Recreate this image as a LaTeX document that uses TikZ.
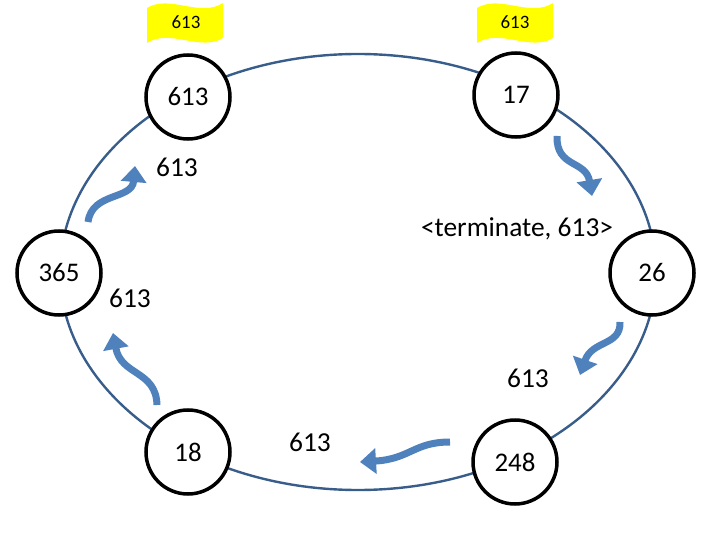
\documentclass[tikz,border=0pt]{standalone}
\usepackage{fontspec}
\setmainfont{Carlito}
\usetikzlibrary{arrows.meta,positioning}
\definecolor{ringblue}{RGB}{56,93,138}
\definecolor{flowblue}{RGB}{79,129,189}
\definecolor{flagyellow}{RGB}{255,255,0}

\begin{document}
\begin{tikzpicture}[x=1bp, y=-1bp,
    ring node/.style={circle, draw=black, line width=3.5bp, fill=white, minimum size=84bp, inner sep=0pt, font=\fontsize{27}{31}\selectfont},
    ring line/.style={draw=ringblue, line width=2.4bp},
    flow arrow/.style={draw=flowblue, line width=7bp, -{Triangle[length=16bp, width=25bp]}},
    msg label/.style={inner sep=0pt, font=\fontsize{27.5}{32}\selectfont},
    flag label/.style={inner sep=0pt, font=\fontsize{19}{22}\selectfont}]

    \useasboundingbox (0,0) rectangle (720,540);

    % the ring
    \draw [ring line] (358,272) ellipse [x radius=298bp, y radius=218bp];

    % processes on the ring
    \node [ring node] (n613) at (188,97) {613};
    \node [ring node] (n17) at (516,95) {17};
    \node [ring node] (n26) at (652,273) {26};
    \node [ring node] (n248) at (515,462) {248};
    \node [ring node] (n18) at (188,452) {18};
    \node [ring node] (n365) at (59,273) {365};

    % flags over the two leaders
    \fill [flagyellow] (147,8) .. controls (170,-6) and (200,18) .. (223,3)
        -- (223,38) .. controls (200,52) and (170,28) .. (147,43) -- cycle;
    \node [flag label] (flagA) at (186,22) {613};
    \fill [flagyellow] (477,8) .. controls (500,-6) and (530,18) .. (553,3)
        -- (553,38) .. controls (530,52) and (500,28) .. (477,43) -- cycle;
    \node [flag label] (flagB) at (515,22) {613};

    % messages
    \node [msg label] (mA) at (177,167) {613};
    \node [msg label] (mB) at (517,229) {<terminate, 613>};
    \node [msg label] (mC) at (130,298) {613};
    \node [msg label] (mD) at (528,378) {613};
    \node [msg label] (mE) at (310,442) {613};

    % direction of the messages
    \coordinate (a1) at (557,136);
    \coordinate (b1) at (592,196);
    \draw [flow arrow] (a1) .. controls (556,168) and (586,160) .. (b1);
    \coordinate (a2) at (620,322);
    \coordinate (b2) at (580,375);
    \draw [flow arrow] (a2) .. controls (621,346) and (592,340) .. (b2);
    \coordinate (a3) at (450,442);
    \coordinate (b3) at (360,462);
    \draw [flow arrow] (a3) .. controls (414,442) and (410,459) .. (b3);
    \coordinate (a4) at (157,405);
    \coordinate (b4) at (113,333);
    \draw [flow arrow] (a4) .. controls (156,370) and (121,376) .. (b4);
    \coordinate (a5) at (88,222);
    \coordinate (b5) at (135,166);
    \draw [flow arrow] (a5) .. controls (92,192) and (132,200) .. (b5);

\end{tikzpicture}
\end{document}
